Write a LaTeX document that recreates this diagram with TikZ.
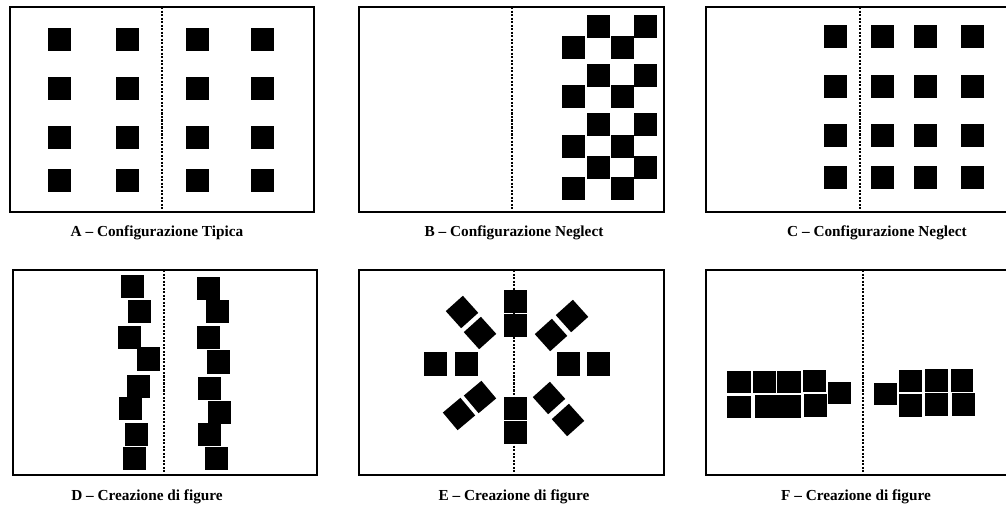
\documentclass[tikz,border=0pt]{standalone}
\usepackage{fontspec}
\setmainfont{Liberation Serif}
\tikzset{
	frame/.style={line width=1.4pt},
	divider/.style={line width=0.6pt, dash pattern=on 1.2pt off 0.8pt},
	caption/.style={font=\fontsize{8.7}{10}\selectfont\bfseries, inner sep=0pt}
}
% square tile of 23px centred at (#1,#2)
\newcommand{\sqtile}[2]{\fill (#1-11.5,#2-11.5) rectangle ++(23,23);}
\newcommand{\rottile}[3]{\fill[rotate around={#3:(#1,#2)}] (#1-11.5,#2-11.5) rectangle ++(23,23);}
\begin{document}
\begin{tikzpicture}[x=0.02cm, y=-0.02cm]
	\useasboundingbox (0,0) rectangle (1006,509);
	\begin{scope}
	\clip (0,0) rectangle (1006,509);
	% frames and midlines
	\draw[frame] (10,7) rectangle (314,212);
	\draw[divider] (162,7) -- (162,212);
	\draw[frame] (359,7) rectangle (664,212);
	\draw[divider] (512,7) -- (512,212);
	\draw[frame] (706,7) rectangle (1012,212);
	\draw[divider] (860,7) -- (860,212);
	\draw[frame] (13,270) rectangle (317,475);
	\draw[divider] (164,270) -- (164,475);
	\draw[frame] (359,270) rectangle (664,475);
	\draw[divider] (514,270) -- (514,475);
	\draw[frame] (706,270) rectangle (1012,475);
	\draw[divider] (863,270) -- (863,475);
	\end{scope}
	% A
	\foreach \x in {59,127,197,262} {
		\foreach \y in {40,89,138,181} {\sqtile{\x}{\y}}
	}
	% B
	\foreach \y in {27,76,125,168} {
		\sqtile{598}{\y}
		\sqtile{645}{\y}
	}
	\foreach \y in {48,97,147,189} {
		\sqtile{573}{\y}
		\sqtile{622}{\y}
	}
	% C
	\foreach \x in {835,882,925,972} {
		\foreach \y in {37,87,136,178} {\sqtile{\x}{\y}}
	}
	% D
	\foreach \x/\y in {132/287,139/312,129/338,148/359,138/386,130/408,136/434,134/458,
		208/289,217/312,208/338,218/362,209/388,219/412,209/434,216/458} {\sqtile{\x}{\y}}
	% E
	\foreach \x/\y in {515/302,515/326,515/408,515/432,435/364,466/364,568/364,598/364} {\sqtile{\x}{\y}}
	\foreach \x/\y/\r in {462/312/-48,480/333/-48,551/335/42,572/316/42,
		459/414/40,480/397/40,549/398/-48,568/420/-48} {\rottile{\x}{\y}{\r}}
	% F
	\fill (727,371) rectangle (751,393);
	\fill (753,371) rectangle (776,393);
	\fill (777,371) rectangle (801,393);
	\fill (803,370) rectangle (826,392);
	\fill (828,382) rectangle (851,404);
	\fill (727,396) rectangle (751,418);
	\fill (755,395) rectangle (801,418);
	\fill (804,394) rectangle (827,417);
	\fill (874,383) rectangle (897,405);
	\fill (899,370) rectangle (922,392);
	\fill (925,369) rectangle (948,392);
	\fill (951,369) rectangle (973,392);
	\fill (899,394) rectangle (922,417);
	\fill (925,393) rectangle (948,416);
	\fill (952,393) rectangle (975,416);
	% captions
	\node[caption] (capA) at (157,233) {A -- Configurazione Tipica};
	\node[caption] (capB) at (514,233) {B -- Configurazione Neglect};
	\node[caption] (capC) at (877,233) {C -- Configurazione Neglect};
	\node[caption] (capD) at (147,497) {D -- Creazione di figure};
	\node[caption] (capE) at (514,497) {E -- Creazione di figure};
	\node[caption] (capF) at (856,497) {F -- Creazione di figure};
\end{tikzpicture}
\end{document}
